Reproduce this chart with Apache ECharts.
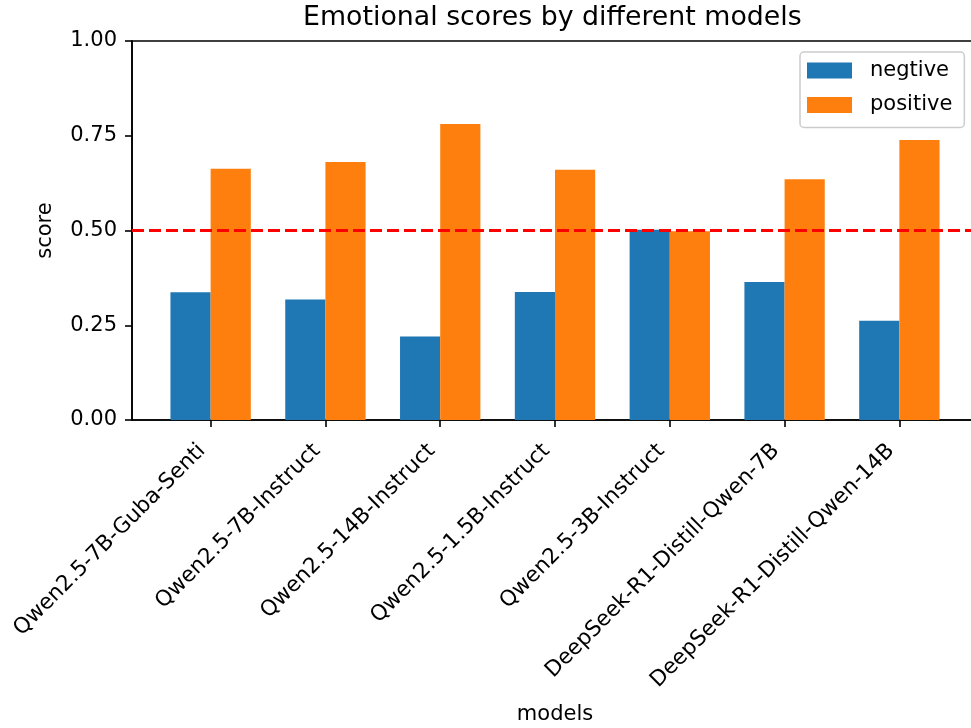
<!DOCTYPE html>
<html>
<head>
<meta charset="utf-8">
<script src="https://cdn.jsdelivr.net/npm/echarts@6/dist/echarts.min.js"></script>
<style>
html,body{margin:0;padding:0;background:#fff;}
#chart{width:971px;height:728px;}
</style>
</head>
<body>
<div id="chart"></div>
<script>
const models = [
  'Qwen2.5-7B-Guba-Senti',
  'Qwen2.5-7B-Instruct',
  'Qwen2.5-14B-Instruct',
  'Qwen2.5-1.5B-Instruct',
  'Qwen2.5-3B-Instruct',
  'DeepSeek-R1-Distill-Qwen-7B',
  'DeepSeek-R1-Distill-Qwen-14B'
];
const negative = [0.337, 0.318, 0.220, 0.338, 0.502, 0.364, 0.262];
const positive = [0.663, 0.681, 0.781, 0.660, 0.498, 0.635, 0.739];
const yTicks = [0, 0.25, 0.5, 0.75, 1.0];
const threshold = 0.5;

const FONT = 'DejaVu Sans';
const idx = models.map((m, i) => i);

const chart = echarts.init(document.getElementById('chart'));
chart.setOption({
  animation: false,
  backgroundColor: '#fff',
  textStyle: { fontFamily: FONT, color: '#000' },
  title: {
    text: 'Emotional scores by different models',
    left: 303, top: 5, padding: 0,
    textStyle: { fontFamily: FONT, fontSize: 26.8, fontWeight: 'normal', color: '#000' }
  },
  legend: {
    orient: 'vertical',
    left: 800, top: 52,
    padding: [8, 12, 12, 7],
    itemWidth: 45, itemHeight: 16, itemGap: 13.5,
    icon: 'rect',
    borderColor: '#cccccc', borderWidth: 1.5, borderRadius: 4,
    backgroundColor: '#fff',
    textStyle: { fontFamily: FONT, fontSize: 21, color: '#000', padding: [3, 0, 0, 13] },
    data: ['negtive', 'positive']
  },
  grid: {
    left: 132, top: 41, width: 846, height: 379,
    outerBoundsMode: 'none', containLabel: false,
    show: true, borderColor: '#000', borderWidth: 1.6, backgroundColor: 'transparent'
  },
  xAxis: {
    type: 'value',
    min: -0.685, max: 6.685,
    name: 'models', nameLocation: 'middle', nameGap: 284,
    nameTextStyle: { fontFamily: FONT, fontSize: 21, color: '#000' },
    axisLine: { show: true, onZero: false, lineStyle: { color: '#000', width: 1.6 } },
    axisTick: { show: true, length: 7, customValues: idx, lineStyle: { color: '#000', width: 1.6 } },
    axisLabel: {
      customValues: idx,
      rotate: 45, margin: 19,
      fontFamily: FONT, fontSize: 21.6, color: '#000',
      padding: [0, 12, 0, 0],
      formatter: v => models[Math.round(v)] || ''
    },
    splitLine: { show: false }
  },
  yAxis: {
    type: 'value',
    min: 0, max: 1, interval: 0.25,
    name: 'score', nameLocation: 'middle', nameGap: 76,
    nameTextStyle: { fontFamily: FONT, fontSize: 21, color: '#000' },
    axisLine: { show: true, onZero: false, lineStyle: { color: '#000', width: 1.6 } },
    axisTick: { show: true, length: 7, customValues: yTicks, lineStyle: { color: '#000', width: 1.6 } },
    axisLabel: {
      customValues: yTicks,
      margin: 15, fontFamily: FONT, fontSize: 21, color: '#000',
      formatter: v => v.toFixed(2)
    },
    splitLine: { show: false }
  },
  series: [
    {
      name: 'negtive', type: 'bar',
      data: idx.map(i => [i, negative[i]]),
      barWidth: '35%', barGap: '0%',
      itemStyle: { color: '#1f77b4' }
    },
    {
      name: 'positive', type: 'bar',
      data: idx.map(i => [i, positive[i]]),
      barWidth: '35%', barGap: '0%',
      itemStyle: { color: '#ff7f0e' },
      markLine: {
        silent: true, symbol: ['none', 'none'],
        label: { show: false },
        lineStyle: { color: '#ff0000', type: [12, 5], width: 3.2 },
        data: [{ yAxis: threshold }]
      }
    }
  ]
});
</script>
</body>
</html>
